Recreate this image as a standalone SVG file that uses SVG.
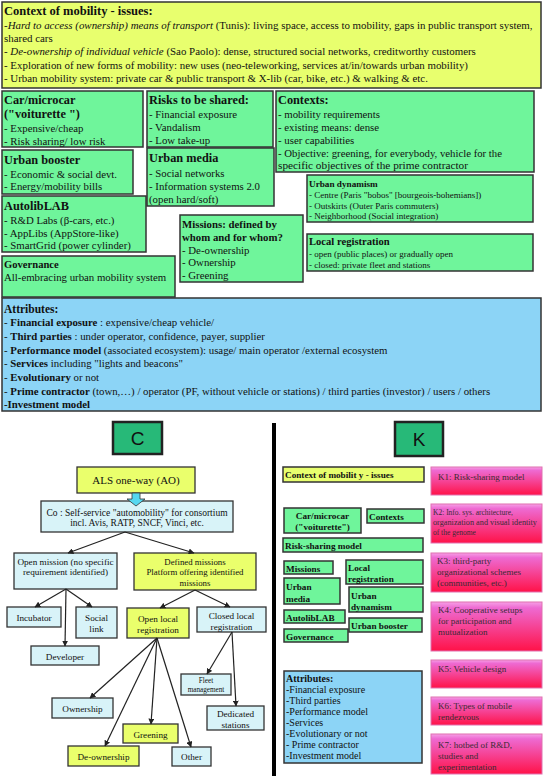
<svg xmlns="http://www.w3.org/2000/svg" width="545" height="776" viewBox="0 0 545 776">
<defs>
<style>
text{font-family:"Liberation Serif","Times New Roman",serif;fill:#111}
.b{font-weight:bold}
.y{fill:#e8ff6e;stroke:#333;stroke-width:1.5}
.g{fill:#6ff59b;stroke:#333;stroke-width:1.5}
.bl{fill:#8cd4f6;stroke:#333;stroke-width:1.5}
.lb{fill:#d8f3f8;stroke:#333;stroke-width:1.3}
.yc{fill:#eaff6c;stroke:#333;stroke-width:1.3}
.kk{fill:url(#kg);stroke:#e070b0;stroke-width:1}
.t11{font-size:10.8px}
.tt{font-size:12.3px;font-weight:bold}
.t10{font-size:10px}
.t9{font-size:9.2px}
.kt{font-size:9px;fill:#3a2a34}
.kt2{font-size:7.5px;fill:#3a2a34}
.c{text-anchor:middle}
.conn line{stroke:#222;stroke-width:1.2;marker-end:url(#ah)}
</style>
<linearGradient id="kg" x1="0" y1="0" x2="0" y2="1">
<stop offset="0" stop-color="#f6a0e6"/>
<stop offset="0.12" stop-color="#ee6ad2"/>
<stop offset="1" stop-color="#ff1248"/>
</linearGradient>
<marker id="ah" viewBox="0 0 10 10" refX="9" refY="5" markerWidth="6" markerHeight="6" orient="auto" markerUnits="userSpaceOnUse">
<path d="M0,0 L10,5 L0,10 z" fill="#222"/>
</marker>
</defs>
<rect width="545" height="776" fill="#fff"/>

<g id="context-mobility">
<rect class="y" x="2" y="2" width="539" height="86"/>
<text x="4" y="15" class="b" font-size="12.5">Context of mobility - issues:</text>
<text x="4" y="29" font-size="10.9">-<tspan font-style="italic">Hard to access (ownership) means of transport</tspan> (Tunis): living space, access to mobility, gaps in public transport system,</text>
<text x="4" y="42" font-size="10.9">shared cars</text>
<text x="4" y="55" font-size="10.9">- <tspan font-style="italic">De-ownership of individual vehicle</tspan> (Sao Paolo): dense, structured social networks, creditworthy customers</text>
<text x="4" y="69" font-size="10.9">- Exploration of new forms of mobility: new uses (neo-teleworking, services at/in/towards urban mobility)</text>
<text x="4" y="82" font-size="10.9">- Urban mobility system: private car &amp; public transport &amp; X-lib (car, bike, etc.) &amp; walking &amp; etc.</text>
</g>

<g id="car-microcar">
<rect class="g" x="2" y="91" width="141" height="56"/>
<text x="4" y="104" class="tt">Car/microcar</text>
<text x="4" y="118" class="tt">("voiturette ")</text>
<text x="4" y="132" class="t11">- Expensive/cheap</text>
<text x="4" y="145" class="t11">- Risk sharing/ low risk</text>
</g>

<g id="risks">
<rect class="g" x="147" y="91" width="126" height="56"/>
<text x="149" y="104" class="tt">Risks to be shared:</text>
<text x="149" y="118" class="t11">- Financial exposure</text>
<text x="149" y="131" class="t11">- Vandalism</text>
<text x="149" y="144" class="t11">- Low take-up</text>
</g>

<g id="contexts">
<rect class="g" x="276" y="91" width="258" height="81"/>
<text x="278" y="104" class="tt">Contexts:</text>
<text x="278" y="118" class="t11">- mobility requirements</text>
<text x="278" y="131" class="t11">- existing means: dense</text>
<text x="278" y="144" class="t11">- user capabilities</text>
<text x="278" y="157" class="t11" textLength="224" lengthAdjust="spacingAndGlyphs">- Objective: greening, for everybody, vehicle for the</text>
<text x="278" y="169" class="t11" textLength="190" lengthAdjust="spacingAndGlyphs">specific objectives of the prime contractor</text>
</g>

<g id="urban-booster">
<rect class="g" x="2" y="150" width="131" height="44"/>
<text x="4" y="164" class="tt">Urban booster</text>
<text x="4" y="178" class="t11">- Economic &amp; social devt.</text>
<text x="4" y="190" class="t11">- Energy/mobility bills</text>
</g>

<g id="urban-media">
<rect class="g" x="147" y="148" width="127" height="58"/>
<text x="149" y="162" class="tt">Urban media</text>
<text x="149" y="177" class="t11">- Social networks</text>
<text x="149" y="190" class="t11">- Information systems 2.0</text>
<text x="149" y="203" class="t11">(open hard/soft)</text>
</g>

<g id="autoliblab">
<rect class="g" x="2" y="196" width="144" height="56"/>
<text x="4" y="210" class="tt">AutolibLAB</text>
<text x="4" y="224" class="t11">- R&amp;D Labs (β-cars, etc.)</text>
<text x="4" y="237" class="t11">- AppLibs (AppStore-like)</text>
<text x="4" y="249" class="t11">- SmartGrid (power cylinder)</text>
</g>

<g id="governance">
<rect class="g" x="2" y="256" width="173" height="41"/>
<text x="4" y="268" class="b" font-size="10.6">Governance</text>
<text x="4" y="281" class="t11">All-embracing urban mobility system</text>
</g>

<g id="missions">
<rect class="g" x="180" y="215" width="123" height="67"/>
<text x="182" y="228" class="b" font-size="10.8">Missions: defined by</text>
<text x="182" y="241" class="b" font-size="10.8">whom and for whom?</text>
<text x="182" y="254" class="t11">- De-ownership</text>
<text x="182" y="266" class="t11">- Ownership</text>
<text x="182" y="279" class="t11">- Greening</text>
</g>

<g id="urban-dynamism">
<rect class="g" x="307" y="175" width="226" height="47"/>
<text x="309" y="186.5" class="b" font-size="9.2">Urban dynamism</text>
<text x="309" y="197.5" font-size="9">- Centre (Paris "bobos" [bourgeois-bohemians])</text>
<text x="309" y="208.5" font-size="9">- Outskirts (Outer Paris commuters)</text>
<text x="309" y="218.5" font-size="9">- Neighborhood (Social integration)</text>
</g>

<g id="local-registration">
<rect class="g" x="307" y="234" width="226" height="37"/>
<text x="309" y="245" class="b" font-size="10.6">Local registration</text>
<text x="309" y="256.5" font-size="9">- open (public places) or gradually open</text>
<text x="309" y="268" font-size="9">- closed: private fleet and stations</text>
</g>

<g id="attributes">
<rect class="bl" x="2" y="298" width="539" height="113"/>
<text x="4" y="313" class="b" font-size="11.5">Attributes:</text>
<text x="4" y="326" class="t11">- <tspan class="b">Financial exposure</tspan>  : expensive/cheap vehicle/</text>
<text x="4" y="340" class="t11">- <tspan class="b">Third parties</tspan> : under operator, confidence, payer, supplier</text>
<text x="4" y="354" class="t11">- <tspan class="b">Performance model</tspan>   (associated ecosystem): usage/ main operator /external ecosystem</text>
<text x="4" y="367" class="t11">- <tspan class="b">Services</tspan> including "lights and beacons"</text>
<text x="4" y="381" class="t11">- <tspan class="b">Evolutionary</tspan>  or not</text>
<text x="4" y="395" class="t11">- <tspan class="b">Prime contractor</tspan>  (town,…) / operator (PF, without vehicle or stations) / third parties (investor) / users / others</text>
<text x="4" y="408" class="t11 b">-Investment model</text>
</g>

<line x1="274" y1="423" x2="274" y2="776" stroke="#000" stroke-width="4"/>

<g id="C-label">
<rect x="113" y="422" width="49" height="32" fill="#27b978" stroke="#222" stroke-width="2.5"/>
<text x="137.5" y="445" class="c" font-size="19" style="font-family:'Liberation Sans',Arial,sans-serif">C</text>
</g>

<g id="als">
<rect class="yc" x="77" y="467" width="118" height="26"/>
<text x="136" y="484" class="c" font-size="11">ALS one-way (AO)</text>
</g>

<g id="co">
<rect class="lb" x="41" y="501" width="192" height="31"/>
<text x="137" y="515.5" class="c" font-size="9.5">Co : Self-service "automobility" for consortium</text>
<text x="137" y="526" class="c" font-size="9.5">incl. Avis, RATP, SNCF, Vinci, etc.</text>
</g>

<g id="open-mission">
<rect class="lb" x="14" y="553" width="103" height="36"/>
<text x="65.5" y="564.5" class="c t9">Open mission (no specific</text>
<text x="65.5" y="575" class="c t9">requirement identified)</text>
</g>

<g id="defined-missions">
<rect class="yc" x="134" y="553" width="122" height="37"/>
<text x="195" y="564.5" class="c" font-size="8.8">Defined missions</text>
<text x="195" y="575" class="c" font-size="8.8">Platform offering identified</text>
<text x="195" y="586" class="c" font-size="8.8">missions</text>
</g>

<g id="incubator"><rect class="lb" x="7" y="607" width="54" height="20"/><text x="34" y="620.5" class="c t9">Incubator</text></g>
<g id="social-link"><rect class="lb" x="76" y="607" width="41" height="31"/><text x="96.5" y="620.5" class="c t9">Social</text><text x="96.5" y="631.5" class="c t9">link</text></g>
<g id="developer"><rect class="lb" x="31" y="646" width="68" height="19"/><text x="65" y="659.5" class="c t9">Developer</text></g>
<g id="open-local"><rect class="yc" x="127" y="608" width="62" height="30"/><text x="158" y="621.5" class="c t9">Open local</text><text x="158" y="632.5" class="c t9">registration</text></g>
<g id="closed-local"><rect class="lb" x="197" y="607" width="69" height="25"/><text x="231.5" y="618.5" class="c t9">Closed local</text><text x="231.5" y="629.5" class="c t9">registration</text></g>
<g id="fleet"><rect class="lb" x="181" y="674" width="50" height="21"/><text x="206" y="683" class="c" font-size="7.2">Fleet</text><text x="206" y="692" class="c" font-size="7.2">management</text></g>
<g id="dedicated"><rect class="lb" x="207" y="706" width="57" height="24"/><text x="235.5" y="716.5" class="c t9">Dedicated</text><text x="235.5" y="727.5" class="c t9">stations</text></g>
<g id="ownership"><rect class="lb" x="52" y="698" width="61" height="20"/><text x="82.5" y="711.5" class="c t9">Ownership</text></g>
<g id="greening"><rect class="yc" x="123" y="724" width="55" height="19"/><text x="150.5" y="737.5" class="c t9">Greening</text></g>
<g id="de-ownership"><rect class="yc" x="68" y="746" width="71" height="20"/><text x="103.5" y="759.5" class="c t9">De-ownership</text></g>
<g id="other"><rect class="lb" x="172" y="747" width="39" height="19"/><text x="191.5" y="759.5" class="c t9">Other</text></g>

<g id="connectors" class="conn">
<path d="M132,493 h8 v6 h5 l-9,7 l-9,-7 h5 z" fill="#55d8f0" stroke="#333" stroke-width="0.8"/>
<line x1="125" y1="532" x2="68" y2="553"/>
<line x1="125" y1="532" x2="194" y2="553"/>
<line x1="66" y1="589" x2="35" y2="607"/>
<line x1="66" y1="589" x2="65" y2="646"/>
<line x1="66" y1="589" x2="92" y2="607"/>
<line x1="195" y1="590" x2="160" y2="608"/>
<line x1="195" y1="590" x2="230" y2="607"/>
<line x1="232" y1="632" x2="207" y2="674"/>
<line x1="232" y1="632" x2="236" y2="706"/>
<line x1="157" y1="638" x2="90" y2="698"/>
<line x1="157" y1="638" x2="105" y2="746"/>
<line x1="157" y1="638" x2="151" y2="724"/>
<line x1="157" y1="638" x2="191" y2="747"/>
</g>

<g id="K-label">
<rect x="395" y="422" width="48" height="34" fill="#27b978" stroke="#222" stroke-width="2.5"/>
<text x="419" y="446" class="c" font-size="19" style="font-family:'Liberation Sans',Arial,sans-serif">K</text>
</g>

<g id="k-context"><rect class="y" x="283" y="467" width="141" height="15"/><text x="285" y="478" class="b t9">Context of mobilit  y - issues</text></g>
<g id="k-car"><rect class="g" x="284" y="508" width="77" height="25"/><text x="322.5" y="518.5" class="c b t9">Car/microcar</text><text x="322.5" y="530" class="c b t9">("voiturette")</text></g>
<g id="k-contexts"><rect class="g" x="367" y="509" width="57" height="14"/><text x="369" y="519.5" class="b t9">Contexts</text></g>
<g id="k-risk"><rect class="g" x="283" y="538" width="140" height="14"/><text x="285" y="548.5" class="b t9">Risk-sharing model</text></g>
<g id="k-missions"><rect class="g" x="284" y="561" width="49" height="13"/><text x="286" y="571.5" class="b t9">Missions</text></g>
<g id="k-local"><rect class="g" x="346" y="560" width="77" height="24"/><text x="348" y="570.5" class="b t9">Local</text><text x="348" y="582" class="b t9">registration</text></g>
<g id="k-media"><rect class="g" x="284" y="578" width="56" height="26"/><text x="286" y="589.5" class="b t9">Urban</text><text x="286" y="601.5" class="b t9">media</text></g>
<g id="k-dynamism"><rect class="g" x="349" y="587" width="74" height="25"/><text x="351" y="599" class="b t9">Urban</text><text x="351" y="610" class="b t9">dynamism</text></g>
<g id="k-autolib"><rect class="g" x="284" y="610" width="61" height="13"/><text x="286" y="620.5" class="b t9">AutolibLAB</text></g>
<g id="k-booster"><rect class="g" x="349" y="618" width="73" height="14"/><text x="351" y="629" class="b t9">Urban booster</text></g>
<g id="k-governance"><rect class="g" x="284" y="629" width="64" height="13"/><text x="286" y="639.5" class="b t9">Governance</text></g>

<g id="k-attributes">
<rect class="bl" x="284" y="671" width="138" height="92"/>
<text x="286" y="681.5" class="b t10">Attributes:</text>
<text x="286" y="692.5" class="t10">-Financial exposure</text>
<text x="286" y="703.5" class="t10">-Third parties</text>
<text x="286" y="714.5" class="t10">-Performance model</text>
<text x="286" y="725.5" class="t10">-Services</text>
<text x="286" y="737" class="t10">-Evolutionary or not</text>
<text x="286" y="747.5" class="t10">- Prime contractor</text>
<text x="286" y="758.5" class="t10">-Investment model</text>
</g>

<g id="K1"><rect class="kk" x="431" y="467" width="111" height="28"/><text x="438" y="479.5" class="kt">K1: Risk-sharing model</text></g>
<g id="K2"><rect class="kk" x="431" y="504" width="111" height="39"/><text x="433" y="515" class="kt2">K2: Info. sys. architecture,</text><text x="433" y="525" class="kt2" textLength="104" lengthAdjust="spacingAndGlyphs">organization and visual identity</text><text x="433" y="535" class="kt2">of the genome</text></g>
<g id="K3"><rect class="kk" x="431" y="553" width="111" height="39"/><text x="437" y="563.5" class="kt">K3: third-party</text><text x="437" y="574.5" class="kt">organizational schemes</text><text x="437" y="585.5" class="kt">(communities, etc.)</text></g>
<g id="K4"><rect class="kk" x="431" y="602" width="111" height="49"/><text x="438" y="613" class="kt">K4: Cooperative setups</text><text x="438" y="624" class="kt">for participation and</text><text x="438" y="635" class="kt">mutualization</text></g>
<g id="K5"><rect class="kk" x="431" y="660" width="111" height="28"/><text x="438" y="672" class="kt">K5: Vehicle design</text></g>
<g id="K6"><rect class="kk" x="431" y="697" width="111" height="28"/><text x="438" y="708.5" class="kt">K6: Types of mobile</text><text x="438" y="720" class="kt">rendezvous</text></g>
<g id="K7"><rect class="kk" x="431" y="734" width="111" height="40"/><text x="438" y="748" class="kt">K7: hotbed of R&amp;D,</text><text x="438" y="759" class="kt">studies and</text><text x="438" y="770" class="kt">experimentation</text></g>
</svg>
